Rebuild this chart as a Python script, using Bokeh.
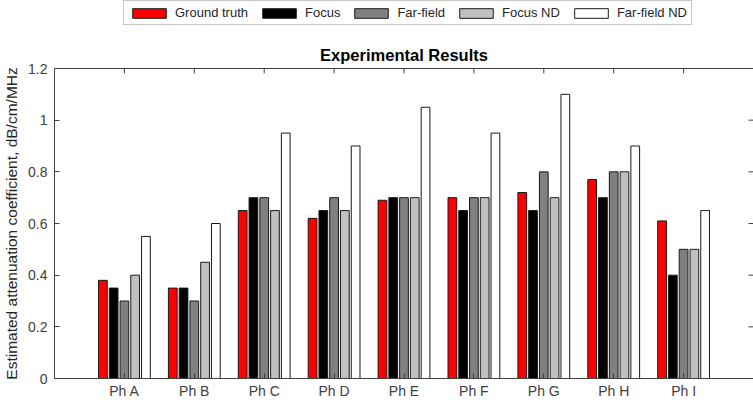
from bokeh.plotting import figure
from bokeh.models import (Range1d, FixedTicker, LinearAxis, Legend, LegendItem,
                          ColumnDataSource)
from bokeh.layouts import column
from bokeh.embed import file_html
from bokeh.resources import INLINE
import numpy as np

categories = ["Ph A", "Ph B", "Ph C", "Ph D", "Ph E", "Ph F", "Ph G", "Ph H", "Ph I"]
series_names = ["Ground truth", "Focus", "Far-field", "Focus ND", "Far-field ND"]
ground_truth = [0.38, 0.35, 0.65, 0.62, 0.69, 0.70, 0.72, 0.77, 0.61]
focus        = [0.35, 0.35, 0.70, 0.65, 0.70, 0.65, 0.65, 0.70, 0.40]
far_field    = [0.30, 0.30, 0.70, 0.70, 0.70, 0.70, 0.80, 0.80, 0.50]
focus_nd     = [0.40, 0.45, 0.65, 0.65, 0.70, 0.70, 0.70, 0.80, 0.50]
far_field_nd = [0.55, 0.60, 0.95, 0.90, 1.05, 0.95, 1.10, 0.90, 0.65]
y_ticks = [0, 0.2, 0.4, 0.6, 0.8, 1.0, 1.2]
y_tick_labels = ["0", "0.2", "0.4", "0.6", "0.8", "1", "1.2"]

series = [ground_truth, focus, far_field, focus_nd, far_field_nd]
colors = ["#ff0000", "#000000", "#808080", "#c0c0c0", "#ffffff"]

FONT = "Liberation Sans"
AX = "#404040"
EDGE = "#1a1a1a"
X_END = 10
Y_END = 1.2
W = 753
LEG_H = 30

# ---------------- main chart ----------------
p = figure(width=W, height=405 - LEG_H, output_backend="svg", toolbar_location=None,
           title="Experimental Results",
           x_range=Range1d(0, X_END), y_range=Range1d(0, Y_END),
           min_border_left=54, min_border_right=0, min_border_top=38,
           min_border_bottom=27)
p.outline_line_color = None
p.grid.visible = False
p.background_fill_color = "white"
p.border_fill_color = "white"

p.title.text_font = FONT
p.title.text_font_size = "16.5px"
p.title.text_font_style = "bold"
p.title.text_color = "#000000"
p.title.align = "center"

centers = np.arange(1, len(categories) + 1)
step = 0.154
width = 0.125
for i, (vals, col) in enumerate(zip(series, colors)):
    src = ColumnDataSource(dict(x=centers + (i - 2) * step, top=vals))
    p.vbar(x="x", top="top", width=width, bottom=0, source=src,
           fill_color=col, line_color=EDGE, line_width=1)

# inward ticks on the top and right edges (half of each dash is clipped by the frame)
p.scatter(x=centers, y=[Y_END] * len(centers), marker="dash", angle=np.pi / 2,
          size=10, line_color=AX, line_width=1)
p.scatter(x=[X_END] * len(y_ticks), y=y_ticks, marker="dash",
          size=10, line_color=AX, line_width=1)

xa = p.xaxis[0]
xa.ticker = FixedTicker(ticks=list(centers))
xa.major_label_overrides = {int(c): lab for c, lab in zip(centers, categories)}
xa.major_label_standoff = 4
ya = p.yaxis[0]
ya.ticker = FixedTicker(ticks=y_ticks)
ya.major_label_overrides = {t: l for t, l in zip(y_ticks, y_tick_labels)}
ya.major_label_standoff = 7
ya.axis_label = "Estimated attenuation coefficient, dB/cm/MHz"
ya.axis_label_text_font = FONT
ya.axis_label_text_font_size = "15.5px"
ya.axis_label_text_font_style = "normal"
ya.axis_label_text_color = "#262626"
ya.axis_label_standoff = 5

for ax in (xa, ya):
    ax.axis_line_color = AX
    ax.major_tick_line_color = AX
    ax.major_tick_in = 5
    ax.major_tick_out = 0
    ax.minor_tick_line_color = None
    ax.major_label_text_font = FONT
    ax.major_label_text_font_size = "14px"
    ax.major_label_text_color = "#404040"

top_ax = LinearAxis(ticker=FixedTicker(ticks=[]), bounds=(0, X_END),
                    axis_line_color=AX, major_tick_line_color=None,
                    minor_tick_line_color=None, major_label_standoff=0)
p.add_layout(top_ax, "above")

# ---------------- legend strip above the chart ----------------
lg = figure(width=W, height=LEG_H, output_backend="svg", toolbar_location=None,
            x_range=Range1d(0, 1), y_range=Range1d(1, 2),
            x_axis_type=None, y_axis_type=None,
            min_border_left=0, min_border_right=0, min_border_top=0, min_border_bottom=0)
lg.outline_line_color = None
lg.grid.visible = False
lg.border_fill_color = "white"
lg.background_fill_color = "white"

# legend proxies: zero-height bars lying outside the strip's visible y range
items = []
for name, col in zip(series_names, colors):
    r = lg.vbar(x=[0.5], top=[0.0], width=0.1, bottom=0, fill_color=col,
                line_color=EDGE, line_width=1)
    items.append(LegendItem(label=name, renderers=[r]))

legend = Legend(items=items, orientation="horizontal", location=(69, 5),
                glyph_width=42, glyph_height=12, label_standoff=5, spacing=10,
                padding=4, margin=0,
                label_text_font=FONT, label_text_font_size="13px",
                label_text_color="#262626", label_height=15,
                border_line_color="#8c8c8c", border_line_width=1.5,
                background_fill_color="white", background_fill_alpha=1)
lg.add_layout(legend)

layout = column(lg, p, spacing=0)
open("out.html", "w").write(file_html(layout, INLINE))
